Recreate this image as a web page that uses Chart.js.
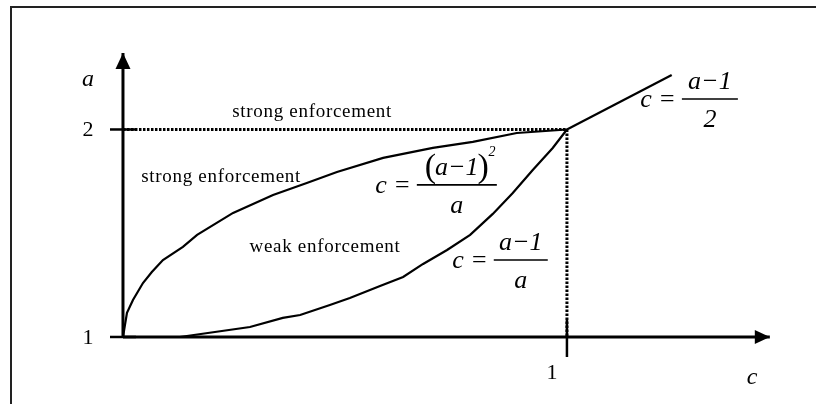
<!DOCTYPE html>
<html>
<head>
<meta charset="utf-8">
<script src="https://cdn.jsdelivr.net/npm/chart.js@4"></script>
<style>
  html, body { margin: 0; padding: 0; background: #fff; }
</style>
</head>
<body>
<canvas id="myChart" width="816" height="404"></canvas>
<script>
// boundary c = (a-1)^2/a  (upper, concave curve)
var upperC = [0, 0.0045, 0.009, 0.0225, 0.045, 0.065, 0.090, 0.135, 0.167, 0.248, 0.338, 0.414, 0.482, 0.586, 0.698, 0.788, 0.887, 1.0]
var upperA = [1, 1.058, 1.116, 1.178, 1.26, 1.313, 1.371, 1.434, 1.492, 1.598, 1.684, 1.742, 1.795, 1.863, 1.911, 1.940, 1.983, 2.0]
// boundary c = (a-1)/a  (lower, convex curve)
var lowerC = [0, 0.128, 0.286, 0.360, 0.399, 0.466, 0.511, 0.579, 0.631, 0.676, 0.730, 0.782, 0.833, 0.878, 0.923, 0.968, 1.0]
var lowerA = [1, 1.0, 1.048, 1.092, 1.106, 1.154, 1.188, 1.246, 1.289, 1.352, 1.419, 1.492, 1.593, 1.694, 1.805, 1.911, 2.0]
// c = (a-1)/2 beyond a = 2
var rayC = [1, 1.236]
var rayA = [2, 2.263]
// axes
var xAxisC = [0, 1.457]
var yAxisA = [1, 2.369]
var xTicks = [1]
var yTicks = [1, 2]

function pts(xs, ys) {
      return xs.map(function (x, i) { return { x: x, y: ys[i] } })
}

function line(data, width, dash) {
      return {
            data: data,
            showLine: true,
            fill: false,
            tension: 0,
            borderColor: '#000',
            borderWidth: width,
            borderDash: dash || [],
            pointRadius: 0,
            borderCapStyle: 'butt'
      }
}

var serif = '"Liberation Serif", "DejaVu Serif", serif'

// c =  num / den  at bar centre (x, y)
function drawEq(ctx, x, y, num, den, barW, paren) {
      ctx.fillStyle = '#000'
      ctx.strokeStyle = '#000'
      ctx.font = 'italic 26px ' + serif
      ctx.textAlign = 'right'
      ctx.textBaseline = 'alphabetic'
      ctx.fillText('c =', x - barW / 2 - 6, y + 8)
      ctx.lineWidth = 1.6
      ctx.beginPath()
      ctx.moveTo(x - barW / 2, y)
      ctx.lineTo(x + barW / 2, y)
      ctx.stroke()
      ctx.textAlign = 'center'
      ctx.fillText(num, x, y - 10)
      ctx.fillText(den, x, y + 28)
      if (paren) {
            var w = ctx.measureText(num).width
            ctx.font = '34px ' + serif
            ctx.textAlign = 'right'
            ctx.fillText('(', x - w / 2 + 1, y - 8)
            ctx.textAlign = 'left'
            ctx.fillText(')', x + w / 2 - 1, y - 8)
            ctx.font = 'italic 14px ' + serif
            ctx.fillText('2', x + w / 2 + 10, y - 29)
      }
}

var decorations = {
      id: 'decorations',
      afterDatasetsDraw: function (chart) {
            var ctx = chart.ctx
            var sx = chart.scales.x, sy = chart.scales.y
            ctx.save()

            // frame
            ctx.strokeStyle = '#222'
            ctx.lineWidth = 2
            ctx.strokeRect(11, 7, 840, 440)

            var x0 = sx.getPixelForValue(0), y0 = sy.getPixelForValue(1)
            ctx.fillStyle = '#000'
            ctx.strokeStyle = '#000'

            // arrow heads
            var ty = sy.getPixelForValue(yAxisA[1])
            ctx.beginPath()
            ctx.moveTo(x0, ty)
            ctx.lineTo(x0 - 7.5, ty + 16)
            ctx.lineTo(x0 + 7.5, ty + 16)
            ctx.closePath()
            ctx.fill()
            var tx = sx.getPixelForValue(xAxisC[1])
            ctx.beginPath()
            ctx.moveTo(tx, y0)
            ctx.lineTo(tx - 15, y0 - 7)
            ctx.lineTo(tx - 15, y0 + 7)
            ctx.closePath()
            ctx.fill()

            // ticks
            ctx.lineWidth = 2.5
            yTicks.forEach(function (v) {
                  var y = sy.getPixelForValue(v)
                  ctx.beginPath()
                  ctx.moveTo(x0 - 13, y)
                  ctx.lineTo(x0 + 13, y)
                  ctx.stroke()
            })
            xTicks.forEach(function (v) {
                  var x = sx.getPixelForValue(v)
                  ctx.beginPath()
                  ctx.moveTo(x, y0 - 17)
                  ctx.lineTo(x, y0 + 20)
                  ctx.stroke()
            })

            // tick labels
            ctx.font = '22px ' + serif
            ctx.textAlign = 'center'
            ctx.textBaseline = 'middle'
            yTicks.forEach(function (v) {
                  ctx.fillText(String(v), x0 - 35, sy.getPixelForValue(v) + 1)
            })
            xTicks.forEach(function (v) {
                  ctx.fillText(String(v), sx.getPixelForValue(v) - 15, y0 + 36)
            })

            // axis names
            ctx.font = 'italic 24px ' + serif
            ctx.fillText('a', x0 - 35, sy.getPixelForValue(2.239))
            ctx.fillText('c', sx.getPixelForValue(1.417), sy.getPixelForValue(0.805))

            // regions
            ctx.font = '19px ' + serif
            ctx.letterSpacing = '0.7px'
            ctx.fillText('strong enforcement', sx.getPixelForValue(0.426), sy.getPixelForValue(2.084))
            ctx.fillText('strong enforcement', sx.getPixelForValue(0.221), sy.getPixelForValue(1.771))
            ctx.fillText('weak enforcement', sx.getPixelForValue(0.455), sy.getPixelForValue(1.434))
            ctx.letterSpacing = '0px'

            // boundary formulas
            drawEq(ctx, sx.getPixelForValue(0.752), sy.getPixelForValue(1.733), 'a\u22121', 'a', 80, true)
            drawEq(ctx, sx.getPixelForValue(0.896), sy.getPixelForValue(1.371), 'a\u22121', 'a', 54)
            drawEq(ctx, sx.getPixelForValue(1.322), sy.getPixelForValue(2.147), 'a\u22121', '2', 56)

            ctx.restore()
      }
}

var ctx = document.getElementById('myChart')
var myChart = new Chart(ctx, {
      type: 'scatter',
      data: {
            datasets: [
                  line(pts([1, 1], [2, 1]), 3, [2.5, 1.5]),
                  line(pts([0, 1], [2, 2]), 3, [2.5, 1.5]),
                  line(pts(xAxisC, [1, 1]), 3),
                  line(pts([0, 0], yAxisA), 3),
                  line(pts(upperC, upperA), 2.2),
                  line(pts(lowerC, lowerA), 2.2),
                  line(pts(rayC, rayA), 2.2)
            ]
      },
      options: {
            animation: false,
            responsive: false,
            layout: { padding: 0 },
            plugins: {
                  legend: { display: false },
                  tooltip: { enabled: false }
            },
            scales: {
                  x: { type: 'linear', display: false, min: -0.277, max: 1.561 },
                  y: { type: 'linear', display: false, min: 0.677, max: 2.624 }
            }
      },
      plugins: [decorations]
})
</script>
</body>
</html>
